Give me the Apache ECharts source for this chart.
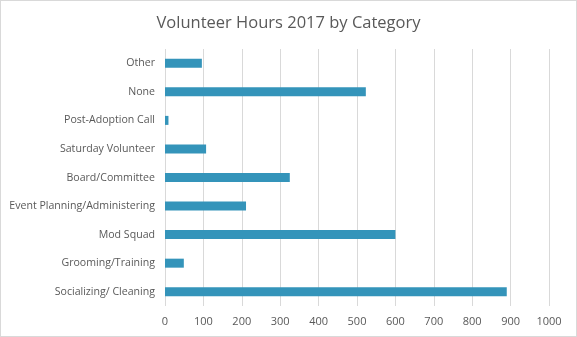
<!DOCTYPE html>
<html>
<head>
<meta charset="utf-8">
<script src="https://cdn.jsdelivr.net/npm/echarts@6/dist/echarts.min.js"></script>
<style>
html,body{margin:0;padding:0;background:#fff;}
#c{width:577px;height:337px;box-sizing:border-box;border:1px solid #d9d9d9;}
</style>
</head>
<body>
<div id="c"></div>
<script>
const title = 'Volunteer Hours 2017 by Category';
const categories = ['Other','None','Post-Adoption Call','Saturday Volunteer','Board/Committee','Event Planning/Administering','Mod Squad','Grooming/Training','Socializing/ Cleaning'];
const hours = [96, 523, 9, 107, 325, 211, 600, 49, 890];
const xTicks = {min: 0, max: 1000, interval: 100};

const chart = echarts.init(document.getElementById('c'), null, {renderer:'canvas'});
chart.setOption({
  animation: false,
  title: {
    text: title, left: 'center', top: 9,
    textStyle: {fontFamily: 'Open Sans', fontWeight: 'normal', fontSize: 16.5, color: '#595959'}
  },
  grid: {left: 164, right: 27, top: 48, bottom: 30},
  xAxis: {
    type: 'value', min: xTicks.min, max: xTicks.max, interval: xTicks.interval,
    axisLine: {show: false}, axisTick: {show: false},
    splitLine: {lineStyle: {color: '#d9d9d9', width: 1}},
    axisLabel: {color: '#595959', fontSize: 11, fontFamily: 'Open Sans', margin: 10,
      formatter: v => String(v)}
  },
  yAxis: {
    type: 'category', data: categories, inverse: true,
    axisLine: {show: false}, axisTick: {show: false},
    axisLabel: {color: '#595959', fontSize: 10.6, fontFamily: 'Open Sans', margin: 10}
  },
  series: [{
    type: 'bar', data: hours, barWidth: 9,
    itemStyle: {color: '#3494BA'}
  }]
});
</script>
</body>
</html>
